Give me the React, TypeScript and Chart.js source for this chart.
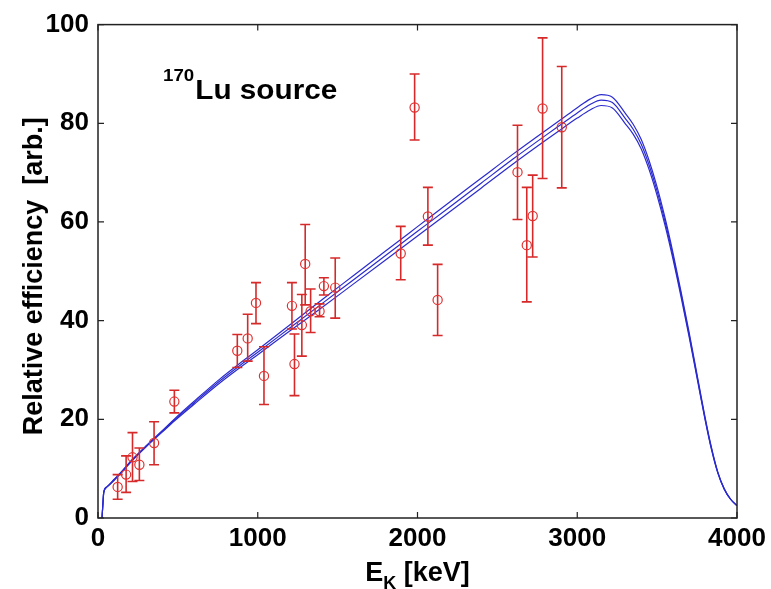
import React, { useEffect, useRef } from 'react';
import { Chart, registerables } from 'chart.js';

Chart.register(...registerables);

// Measured points
const energyKeV = [123, 176, 216, 259, 351, 478, 872, 937, 989, 1039, 1214, 1230, 1276, 1297, 1331, 1387, 1414, 1485, 1895, 1982, 2065, 2126, 2626, 2684, 2721, 2783, 2903];
const efficiency = [6.3, 8.8, 12.3, 10.8, 15.2, 23.6, 33.9, 36.4, 43.6, 28.8, 43.0, 31.2, 39.1, 51.5, 41.9, 41.9, 47.0, 46.7, 53.6, 83.2, 61.1, 44.2, 70.1, 55.3, 61.2, 83.0, 79.2];
const errHigh = [8.8, 12.6, 17.3, 14.2, 19.5, 25.9, 37.2, 41.3, 47.7, 34.7, 47.7, 37.3, 45.3, 59.5, 46.4, 43.4, 48.7, 52.7, 59.1, 90.0, 67.0, 51.4, 79.6, 67.0, 69.5, 97.3, 91.5];
const errLow = [3.8, 5.2, 7.4, 7.6, 10.8, 21.3, 30.5, 31.8, 39.4, 23.0, 38.3, 24.8, 32.8, 43.2, 37.6, 40.8, 45.2, 40.5, 48.3, 76.6, 55.3, 37.0, 60.5, 43.8, 52.9, 68.8, 66.9];

// Fitted efficiency curves
const fitEnergy = [25, 30, 36, 56, 100, 150, 213, 300, 400, 476, 600, 764, 900, 1000, 1200, 1400, 1600, 1800, 2000, 2200, 2400, 2600, 2800, 2900, 3000, 3080, 3150, 3220, 3300, 3350, 3400, 3450, 3500, 3550, 3600, 3650, 3700, 3750, 3800, 3840, 3880, 3920, 3960, 4000];
const fitMid = [0, 2.5, 5.2, 6.3, 7.7, 9.4, 11.7, 14.5, 17.5, 19.8, 23.3, 27.8, 31.2, 33.6, 38.5, 43.4, 48.3, 53.2, 58.1, 63.0, 67.9, 72.8, 77.5, 79.8, 82.1, 83.8, 84.7, 84.2, 81.0, 78.8, 75.8, 71.5, 66.2, 60.0, 53.0, 45.3, 37.2, 28.7, 20.2, 14.1, 9.2, 5.9, 3.8, 2.5];
const fitUpper = [0, 2.5, 5.2, 6.3, 7.8, 9.5, 11.8, 14.6, 17.65, 20.0, 23.6, 28.2, 31.65, 34.1, 39.1, 44.2, 49.15, 54.1, 59.05, 64.0, 68.9, 73.8, 78.5, 80.8, 83.15, 84.9, 85.8, 85.3, 82.05, 79.8, 76.75, 72.4, 67.05, 60.75, 53.65, 45.85, 37.65, 29.05, 20.45, 14.3, 9.3, 5.95, 3.8, 2.5];
const fitLower = [0, 2.5, 5.2, 6.3, 7.6, 9.3, 11.6, 14.4, 17.35, 19.6, 23.0, 27.4, 30.75, 33.1, 37.9, 42.6, 47.45, 52.3, 57.15, 62.0, 66.9, 71.8, 76.5, 78.8, 81.05, 82.7, 83.6, 83.1, 79.95, 77.8, 74.85, 70.6, 65.35, 59.25, 52.35, 44.75, 36.75, 28.35, 19.95, 13.9, 9.1, 5.85, 3.8, 2.5];

const xTicks = [0, 1000, 2000, 3000, 4000];
const yTicks = [0, 20, 40, 60, 80, 100];

const FONT = 'Arial, "Liberation Sans", Helvetica, sans-serif';
const BLUE = '#2b2bcf';
const RED = '#d62a2a';

export default function App() {
  const ref = useRef<HTMLCanvasElement>(null);

  useEffect(() => {
    const canvas = ref.current;
    if (!canvas) return;

    const decor = {
      id: 'decor',
      beforeDatasetDraw(chart: any, args: any) {
        if (args.index !== 3) return;
        const { ctx, scales } = chart;
        const xs = scales.x;
        const ys = scales.y;
        ctx.save();
        ctx.strokeStyle = RED;
        ctx.lineWidth = 1.6;
        ctx.beginPath();
        for (let i = 0; i < energyKeV.length; i++) {
          const px = xs.getPixelForValue(energyKeV[i]);
          const pyH = ys.getPixelForValue(errHigh[i]);
          const pyL = ys.getPixelForValue(errLow[i]);
          ctx.moveTo(px, pyH);
          ctx.lineTo(px, pyL);
          ctx.moveTo(px - 5, pyH);
          ctx.lineTo(px + 5, pyH);
          ctx.moveTo(px - 5, pyL);
          ctx.lineTo(px + 5, pyL);
        }
        ctx.stroke();
        ctx.restore();
      },
      afterDraw(chart: any) {
        const { ctx, chartArea, scales } = chart;
        const { left, right, top, bottom } = chartArea;
        const xs = scales.x;
        const ys = scales.y;
        ctx.save();
        ctx.strokeStyle = '#222';
        ctx.lineWidth = 1.5;
        ctx.strokeRect(left, top, right - left, bottom - top);
        ctx.lineWidth = 1.2;
        ctx.beginPath();
        const tl = 6;
        for (const v of xTicks) {
          const px = xs.getPixelForValue(v);
          ctx.moveTo(px, bottom);
          ctx.lineTo(px, bottom - tl);
          ctx.moveTo(px, top);
          ctx.lineTo(px, top + tl);
        }
        for (const v of yTicks) {
          const py = ys.getPixelForValue(v);
          ctx.moveTo(left, py);
          ctx.lineTo(left + tl, py);
          ctx.moveTo(right, py);
          ctx.lineTo(right - tl, py);
        }
        ctx.stroke();

        ctx.fillStyle = '#000';
        // y title
        ctx.save();
        ctx.translate(42, (top + bottom) / 2 + 5);
        ctx.rotate(-Math.PI / 2);
        ctx.font = `bold 27px ${FONT}`;
        ctx.textAlign = 'center';
        ctx.textBaseline = 'alphabetic';
        ctx.fillText('Relative efficiency  [arb.]', 0, 0);
        ctx.restore();

        // x title with subscript
        ctx.textBaseline = 'alphabetic';
        ctx.textAlign = 'left';
        const big = `bold 27px ${FONT}`;
        const small = `bold 18px ${FONT}`;
        ctx.font = big;
        const wE = ctx.measureText('E').width;
        const wRest = ctx.measureText(' [keV]').width;
        ctx.font = small;
        const wK = ctx.measureText('K').width;
        const total = wE + wK + wRest;
        let sx = (left + right) / 2 - total / 2;
        const base = bottom + 63;
        ctx.font = big;
        ctx.fillText('E', sx, base);
        sx += wE;
        ctx.font = small;
        ctx.fillText('K', sx, base + 8);
        sx += wK;
        ctx.font = big;
        ctx.fillText(' [keV]', sx, base);

        // annotation
        ctx.save();
        ctx.translate(163, 0);
        ctx.scale(1.1, 1);
        ctx.font = `bold 17px ${FONT}`;
        ctx.fillText('170', 0, 81);
        const w170 = ctx.measureText('170').width;
        ctx.font = `bold 27px ${FONT}`;
        ctx.fillText('Lu source', w170 + 1, 99);
        ctx.restore();
        ctx.restore();
      },
    };

    const lineDs = (data: number[], label: string) => ({
      type: 'line' as const,
      label,
      data: fitEnergy.map((e, i) => ({ x: e, y: data[i] })),
      borderColor: BLUE,
      borderWidth: 1.2,
      pointRadius: 0,
      fill: false,
      cubicInterpolationMode: 'monotone' as const,
      order: 2,
    });

    const chart = new Chart(canvas, {
      type: 'scatter',
      data: {
        datasets: [
          lineDs(fitUpper, 'upper'),
          lineDs(fitMid, 'fit'),
          lineDs(fitLower, 'lower'),
          {
            type: 'scatter',
            label: 'data',
            data: energyKeV.map((e, i) => ({ x: e, y: efficiency[i] })),
            borderColor: '#e03030',
            backgroundColor: 'rgba(0,0,0,0)',
            borderWidth: 1.2,
            pointRadius: 4.6,
            pointStyle: 'circle',
            order: 1,
          },
        ],
      },
      options: {
        responsive: false,
        animation: false,
        events: [],
        layout: { padding: { top: 22, right: 34, left: 0, bottom: 0 } },
        plugins: {
          legend: { display: false },
          tooltip: { enabled: false },
          title: { display: false },
        },
        scales: {
          x: {
            type: 'linear',
            min: 0,
            max: 4000,
            grid: { display: false, drawTicks: false },
            border: { display: false },
            afterBuildTicks: (s: any) => {
              s.ticks = xTicks.map((v) => ({ value: v }));
            },
            afterFit: (s: any) => {
              s.height = 71;
            },
            ticks: {
              autoSkip: false,
              maxRotation: 0,
              padding: 5,
              color: '#000',
              font: { family: FONT, size: 26, weight: 'bold' },
              callback: (v: any) => String(v),
            },
          },
          y: {
            type: 'linear',
            min: 0,
            max: 100,
            grid: { display: false, drawTicks: false },
            border: { display: false },
            afterBuildTicks: (s: any) => {
              s.ticks = yTicks.map((v) => ({ value: v }));
            },
            afterFit: (s: any) => {
              s.width = 98;
            },
            ticks: {
              autoSkip: false,
              padding: 9,
              color: '#000',
              font: { family: FONT, size: 26, weight: 'bold' },
              callback: (v: any) => String(v),
            },
          },
        },
      },
      plugins: [decor],
    } as any);

    return () => chart.destroy();
  }, []);

  return (
    <div style={{ position: 'fixed', left: 0, top: 0, width: 771, height: 589, background: '#fff' }}>
      <canvas ref={ref} width={771} height={589} style={{ width: 771, height: 589, display: 'block' }} />
    </div>
  );
}
